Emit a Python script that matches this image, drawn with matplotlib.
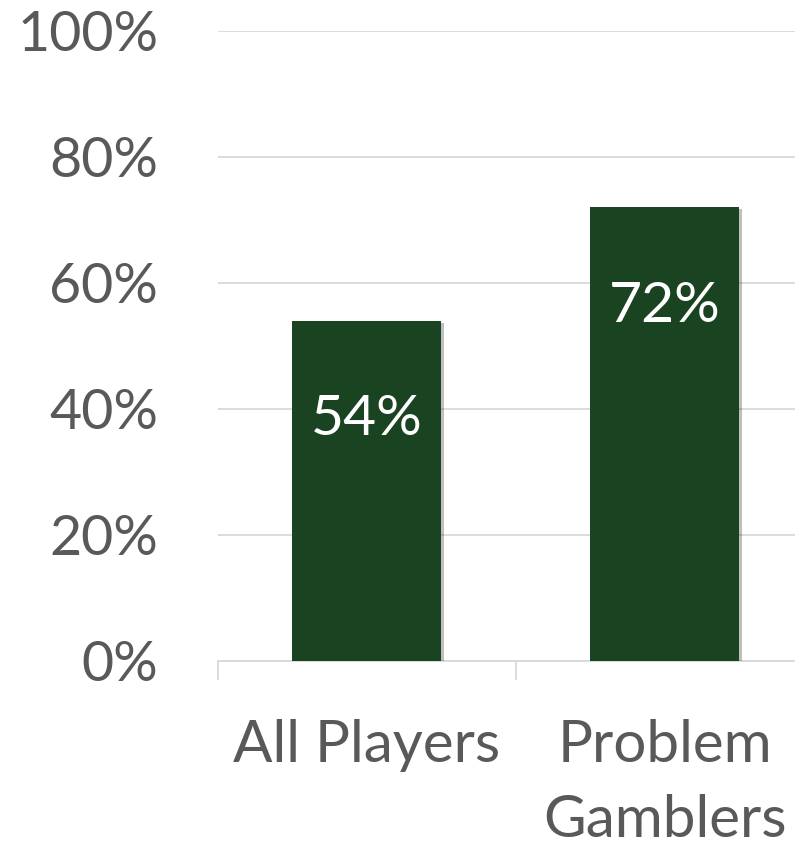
import matplotlib.pyplot as plt
import matplotlib.patheffects as pe
from matplotlib.ticker import FixedLocator

categories = ["All Players", "Problem\nGamblers"]
values = [54, 72]
yticks = [0, 20, 40, 60, 80, 100]

plt.rcParams['font.family'] = ['Lato', 'DejaVu Sans']

fig = plt.figure(figsize=(7.95, 8.46), dpi=100)
ax = fig.add_axes([0.2742, 0.2187, 0.7497, 0.7447])

grey = '#d9d9d9'
txt = '#595959'

x = range(len(categories))
bars = ax.bar(x, values, width=0.5, color='#1a4322', zorder=3)
for b in bars:
    b.set_path_effects([pe.SimplePatchShadow(offset=(1.5, -1.5), shadow_rgbFace='black', alpha=0.25),
                        pe.Normal()])

# value labels sit inside the top of each bar
for xi, v in zip(x, values):
    ax.text(xi, v - 15.7, f"{v}%", ha='center', va='center', color='white', fontsize=41, zorder=4)

ax.set_xlim(-0.5, 1.5)
ax.set_ylim(0, 100)
ax.set_yticks(yticks)
ax.set_yticklabels([f"{t}%" for t in yticks])
ax.yaxis.grid(True, color=grey, linewidth=1.3, zorder=0)
ax.tick_params(axis='y', length=0, labelsize=40, labelcolor=txt, pad=43)

ax.set_xticks(list(x))
ax.set_xticklabels(categories, linespacing=1.5)
ax.xaxis.set_minor_locator(FixedLocator([-0.5, 0.5, 1.5]))
ax.tick_params(axis='x', which='major', length=0, labelsize=42, labelcolor=txt, pad=42)
ax.tick_params(axis='x', which='minor', length=14, width=1.3, color=grey)

for side in ['top', 'right', 'left']:
    ax.spines[side].set_visible(False)
ax.spines['bottom'].set_color(grey)
ax.spines['bottom'].set_linewidth(1.3)

fig.savefig('out.png', dpi=100)
